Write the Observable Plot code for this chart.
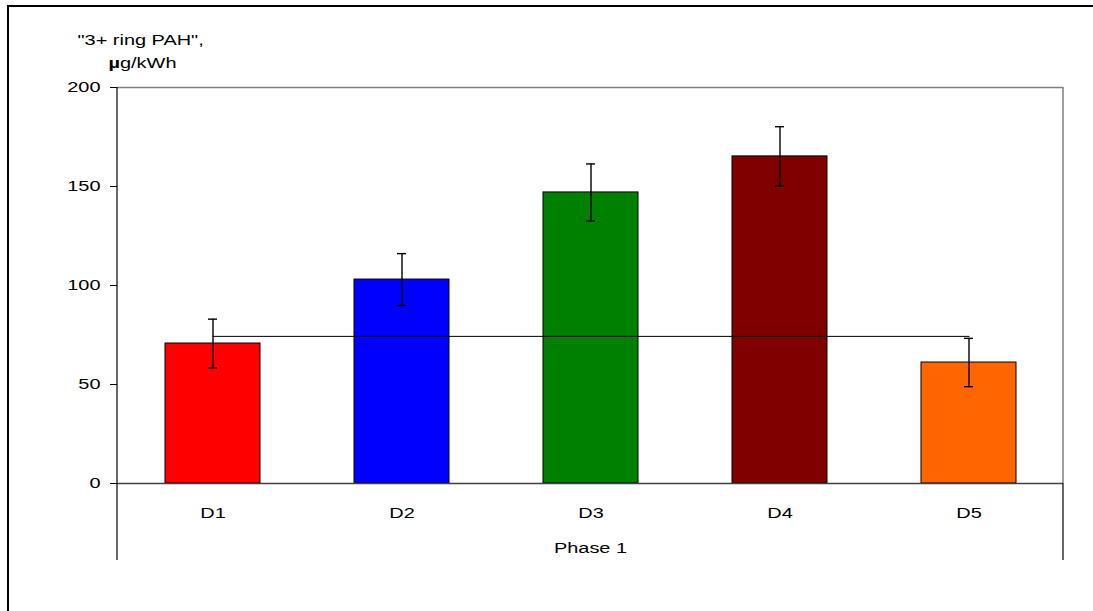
<!DOCTYPE html>
<html>
<head>
<meta charset="utf-8">
<script src="https://cdn.jsdelivr.net/npm/d3@7"></script>
<script src="https://cdn.jsdelivr.net/npm/@observablehq/plot@0.6"></script>
<style>
  html, body { margin: 0; padding: 0; background: #fff; }
  #wrap { position: relative; width: 1093px; height: 611px; overflow: hidden; }
  #border { position: absolute; left: 7px; top: 5px; width: 1100px; height: 620px;
            border-left: 2px solid #000; border-top: 2px solid #000; box-sizing: border-box; pointer-events: none; }
  #chart { position: absolute; left: 0; top: 0; }
</style>
</head>
<body>
<div id="wrap"><div id="chart"></div><div id="border"></div></div>
<script>
const categories = ["D1", "D2", "D3", "D4", "D5"];
const values = [70.7, 103.0, 147.0, 165.2, 61.1];
const errors = [12.3, 13.1, 14.4, 15.0, 12.2];
const colors = ["#FF0000", "#0000FF", "#008000", "#800000", "#FF6600"];
const refValue = 74.3;
const refFrom = "D1", refTo = "D5";
const yTicks = [0, 50, 100, 150, 200];
const groupLabel = "Phase 1";
const yTitle1 = "\"3+ ring PAH\",";
const yTitle2a = "\u00b5";
const yTitle2b = "g/kWh";

const data = categories.map((c, i) => ({cat: c, v: values[i], lo: values[i] - errors[i], hi: values[i] + errors[i]}));
const ref = [{cat: refFrom, v: refValue}, {cat: refTo, v: refValue}];

const W = 1093, H = 611;
const mL = 117, mR = 30, mT = 87, mB = 128;
const STRETCH = 1.33; // the reference's Arial text is horizontally widened

const plot = Plot.plot({
  width: W, height: H,
  marginLeft: mL, marginRight: mR, marginTop: mT, marginBottom: mB,
  style: {fontFamily: "'Liberation Sans', Arial, sans-serif", fontSize: "15px", color: "#000", background: "transparent"},
  x: {domain: categories, paddingInner: 0.5, paddingOuter: 0.25, align: 0.5, label: null, tickSize: 0, tickPadding: 24},
  y: {domain: [0, 200], ticks: yTicks, label: null, tickSize: 7, tickPadding: 10},
  color: {domain: categories, range: colors},
  marks: [
    Plot.ruleY([200], {stroke: "#808080", strokeWidth: 1.5}),
    Plot.barY(data, {x: "cat", y: "v", fill: "cat", stroke: "#000", strokeWidth: 1}),
    Plot.ruleY([0], {stroke: "#404040", strokeWidth: 1.5}),
    Plot.line(ref, {x: "cat", y: "v", stroke: "#000", strokeWidth: 1}),
    Plot.ruleX(data, {x: "cat", y1: "lo", y2: "hi", stroke: "#000", strokeWidth: 1.4}),
    Plot.tickY(data, {x: "cat", y: "lo", stroke: "#000", strokeWidth: 1.4, insetLeft: 43, insetRight: 43}),
    Plot.tickY(data, {x: "cat", y: "hi", stroke: "#000", strokeWidth: 1.4, insetLeft: 43, insetRight: 43}),
    Plot.text([groupLabel], {text: d => d, frameAnchor: "bottom", lineAnchor: "middle", dy: 65, fill: "#000"}),
    Plot.text([yTitle1], {text: d => d, frameAnchor: "top-left", lineAnchor: "middle", textAnchor: "start", dx: -40, dy: -47, fill: "#000"}),
    Plot.text([yTitle2a], {text: d => d, frameAnchor: "top-left", lineAnchor: "middle", textAnchor: "start", dx: -9, dy: -24, fontWeight: "bold", fill: "#000"}),
    Plot.text([yTitle2b], {text: d => d, frameAnchor: "top-left", lineAnchor: "middle", textAnchor: "start", dx: 2.5, dy: -24, fill: "#000"})
  ]
});
document.getElementById("chart").appendChild(plot);

// widen every text around its own anchor point, like the reference's stretched Arial
d3.select(plot).selectAll("text").each(function () {
  const x = +(this.getAttribute("x") || 0);
  const prev = this.getAttribute("transform") || "";
  this.setAttribute("transform", `${prev} translate(${x},0) scale(${STRETCH},1) translate(${-x},0)`);
});

// decorative frame lines (Excel-style plot area and category group dividers)
const svg = d3.select(plot);
const x0 = mL, x1 = W - mR, yTop = mT, yBot = H - mB, yDiv = 560;
svg.append("line").attr("x1", x1).attr("x2", x1).attr("y1", yTop).attr("y2", yBot)
  .attr("stroke", "#808080").attr("stroke-width", 1.5);
svg.append("line").attr("x1", x0).attr("x2", x0).attr("y1", yTop).attr("y2", yDiv)
  .attr("stroke", "#000").attr("stroke-width", 1.2);
svg.append("line").attr("x1", x1).attr("x2", x1).attr("y1", yBot).attr("y2", yDiv)
  .attr("stroke", "#000").attr("stroke-width", 1.2);
</script>
</body>
</html>
